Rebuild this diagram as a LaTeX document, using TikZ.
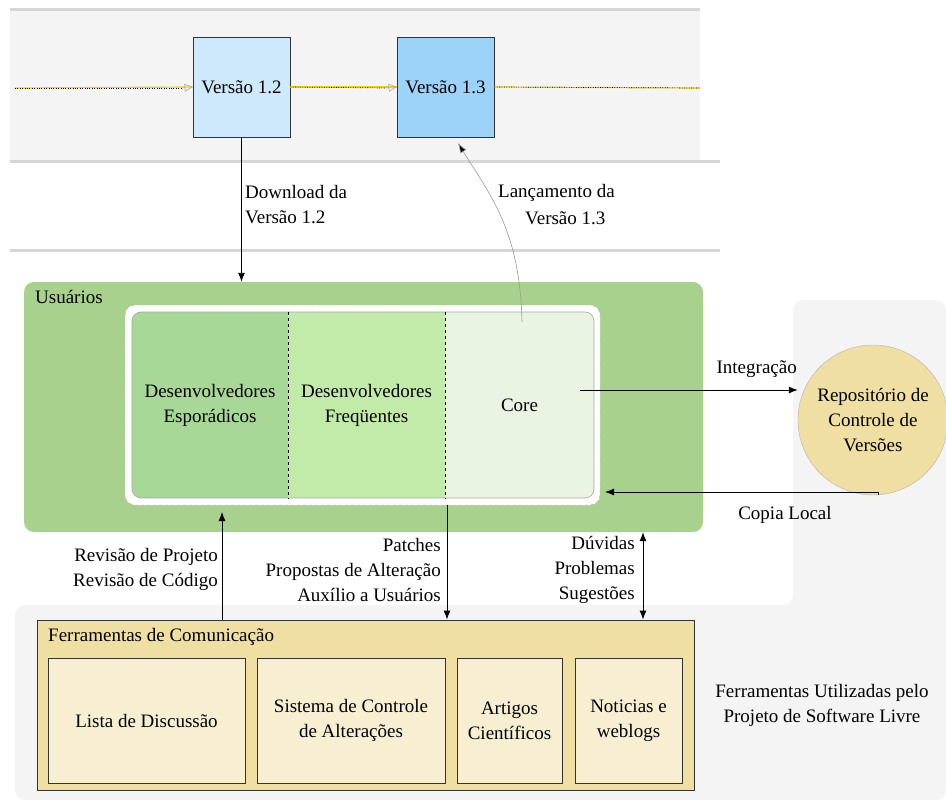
\documentclass[tikz,border=0pt]{standalone}
\usepackage{fontspec}
\setmainfont{Liberation Serif}
\newfontfamily\diagfont{Liberation Serif}
\usetikzlibrary{arrows.meta,positioning}
\definecolor{bandgray}{HTML}{F4F4F4}
\definecolor{rulegray}{HTML}{D6D6D6}
\definecolor{lightblue}{HTML}{CDE9FB}
\definecolor{midblue}{HTML}{9DD3F8}
\definecolor{usergreen}{HTML}{A9D18E}
\definecolor{sporgreen}{HTML}{A7D898}
\definecolor{freqgreen}{HTML}{C2EBAA}
\definecolor{coregreen}{HTML}{E9F4E3}
\definecolor{khaki}{HTML}{F0DFA2}
\definecolor{palekhaki}{HTML}{F8EED2}
\definecolor{timeline}{HTML}{F5D000}
\tikzset{
  txt/.style={font=\diagfont\fontsize{19}{25}\selectfont, align=center, inner sep=0pt},
  txtl/.style={font=\diagfont\fontsize{19}{25}\selectfont, align=left, inner sep=0pt},
  txtr/.style={font=\diagfont\fontsize{19}{25}\selectfont, align=right, inner sep=0pt},
  verbox/.style={draw=black!80, line width=0.8pt, minimum width=97pt, minimum height=100pt, inner sep=0pt, font=\diagfont\fontsize{19}{20}\selectfont},
  toolbox/.style={draw=black!80, line width=0.8pt, fill=palekhaki, minimum height=125pt, inner sep=0pt, align=center, font=\diagfont\fontsize{19}{25}\selectfont},
  part/.style={minimum height=186pt, inner sep=0pt, align=center, font=\diagfont\fontsize{19}{25}\selectfont},
  flow/.style={draw=black, line width=0.9pt, -{Latex[length=9pt,width=7pt]}},
  opentip/.style={-{Triangle[open,length=8pt,width=8pt]}},
}
\begin{document}
\begin{tikzpicture}[x=1pt,y=-1pt]
\useasboundingbox (0,0) rectangle (946,800);

% background bands and regions
\fill[bandgray] (10,10) rectangle (700,160);
\draw[rulegray, line width=3pt] (10,10) -- (700,10);
\draw[rulegray, line width=3pt] (10,161) -- (720,161);
\draw[rulegray, line width=3pt] (10,250) -- (720,250);
\fill[bandgray, rounded corners=10pt] (793,300) -- (946,300) -- (946,800) -- (15,800) -- (15,605) -- (793,605) -- cycle;

% release timeline
\node[verbox, fill=lightblue] (v12) at (241.5,87) {Versão 1.2};
\node[verbox, fill=midblue] (v13) at (445.5,87) {Versão 1.3};
\coordinate (tl0) at (15,88);
\coordinate (tl1) at (700,88);
\draw[timeline, line width=1.2pt] (tl0) -- (v12.west);
\draw[timeline, line width=1.2pt] (v12.east) -- (v13.west);
\draw[timeline, line width=1.2pt] (v13.east) -- (tl1);
\draw[black, dash pattern=on 0.8pt off 1.6pt, line width=0.7pt] (tl0) -- (182,88);
\draw[black, dash pattern=on 0.8pt off 1.6pt, line width=0.7pt] (v12.east) -- (386,88);
\draw[black, dash pattern=on 0.8pt off 1.6pt, line width=0.7pt] (v13.east) -- (tl1);
\draw[gray!70, opentip, line width=0.6pt] (182,88) -- (v12.west);
\draw[gray!70, opentip, line width=0.6pt] (386,88) -- (v13.west);

% users group
\node[fill=usergreen, rounded corners=10pt, minimum width=679pt, minimum height=250pt, inner sep=0pt] (users) at (363.5,407) {};
\node[txtl, anchor=north west] (userslbl) at (35,290) {Usuários};
\node[draw=gray!60, dashed, fill=white, rounded corners=10pt, minimum width=475pt, minimum height=200pt, inner sep=0pt] (inner) at (362.5,405) {};
\begin{scope}
  \clip[rounded corners=9pt] (132,312) rectangle (594,498);
  \node[part, fill=sporgreen, minimum width=156pt] (spor) at (210,405) {Desenvolvedores\\Esporádicos};
  \node[part, fill=freqgreen, minimum width=157pt] (freq) at (366.5,405) {Desenvolvedores\\Freqüentes};
  \node[part, fill=coregreen, minimum width=149pt] (core) at (519.5,405) {Core};
\end{scope}
\draw[gray!70, line width=0.6pt, rounded corners=9pt] (132,312) rectangle (594,498);
\draw[black, dashed, line width=0.7pt] (spor.north east) -- (spor.south east);
\draw[black, dashed, line width=0.7pt] (freq.north east) -- (freq.south east);

% version control repository
\node[circle, draw=gray!60, fill=khaki, minimum size=150pt, inner sep=0pt, txt] (repo) at (873,420) {Repositório de\\Controle de\\Versões};

% communication tools
\node[draw=black!80, line width=0.9pt, fill=khaki, minimum width=657pt, minimum height=170pt, inner sep=0pt] (tools) at (365.5,705) {};
\node[txtl, anchor=north west] (toolslbl) at (48,628) {Ferramentas de Comunicação};
\node[toolbox, minimum width=197pt] (lista) at (146.5,720.5) {Lista de Discussão};
\node[toolbox, minimum width=188pt] (sistema) at (351,720.5) {Sistema de Controle\\de Alterações};
\node[toolbox, minimum width=105pt] (artigos) at (509.5,720.5) {Artigos\\Científicos};
\node[toolbox, minimum width=107pt] (noticias) at (628.5,720.5) {Noticias e\\weblogs};
\node[txt] (toolsnote) at (822,705) {Ferramentas Utilizadas pelo\\Projeto de Software Livre};

% connectors
\draw[flow] (v12.south) -- (users.north -| v12.south);
\node[txtl, anchor=west] (dlbl) at (245,205) {Download da\\Versão 1.2};

\coordinate (coretop) at (522,322);
\draw[gray!80, line width=0.6pt, -{Latex[length=10pt,width=7pt,fill=black]}] (coretop) .. controls (520,230) and (490,195) .. (458,143);
\node[txt, anchor=west] (llbl1) at (498,193) {Lançamento da};
\node[txt, anchor=west] (llbl2) at (525,218) {Versão 1.3};

\coordinate (integ) at (580,390);
\draw[flow] (integ) -- (repo.west |- integ);
\node[txt, anchor=south east] (ilbl) at (797,378) {Integração};

\coordinate (copyturn) at (878,492);
\draw[flow] (repo.south -| copyturn) -- (copyturn) -- (605,492);
\node[txt] (clbl) at (785,515) {Copia Local};

\draw[flow] (tools.north -| 222,0) -- (222,512);
\node[txtr, anchor=east] (rlbl) at (218,569) {Revisão de Projeto\\Revisão de Código};

\coordinate (patchtop) at (447,505);
\draw[flow] (patchtop) -- (tools.north -| patchtop);
\node[txtr, anchor=east] (plbl) at (441,570) {Patches\\Propostas de Alteração\\Auxílio a Usuários};

\coordinate (duvx) at (643,0);
\draw[flow, {Latex[length=9pt,width=7pt]}-{Latex[length=9pt,width=7pt]}] (users.south -| duvx) -- (tools.north -| duvx);
\node[txtr, anchor=east] (dulbl) at (635,570) {Dúvidas\\Problemas\\Sugestões};

\end{tikzpicture}
\end{document}
